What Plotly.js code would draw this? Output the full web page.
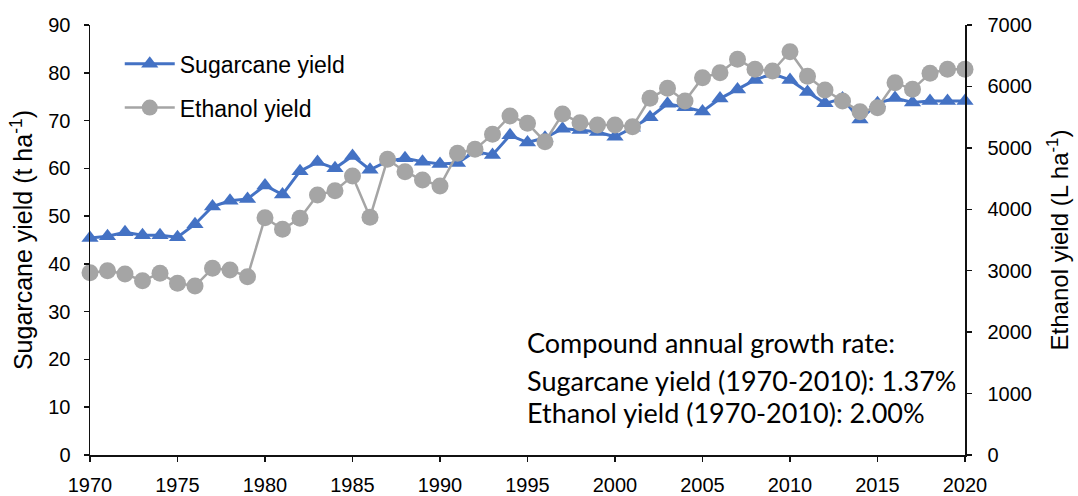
<!DOCTYPE html>
<html>
<head>
<meta charset="utf-8">
<script src="https://cdn.plot.ly/plotly-3.0.1.min.js"></script>
<style>html,body{margin:0;padding:0;background:#fff;}#chart{width:1078px;height:496px;}</style>
</head>
<body>
<div id="chart"></div>
<script>
const years = [1970,1971,1972,1973,1974,1975,1976,1977,1978,1979,1980,1981,1982,1983,1984,1985,1986,1987,1988,1989,1990,1991,1992,1993,1994,1995,1996,1997,1998,1999,2000,2001,2002,2003,2004,2005,2006,2007,2008,2009,2010,2011,2012,2013,2014,2015,2016,2017,2018,2019,2020];
const sugarcaneYield = [45.4,45.8,46.6,46.0,46.0,45.6,48.3,52.0,53.2,53.6,56.4,54.5,59.4,61.3,60.0,62.6,59.7,61.5,62.1,61.4,60.9,61.1,63.5,62.8,66.9,65.4,66.4,68.3,68.0,67.6,66.6,68.5,70.7,73.5,72.8,71.9,74.6,76.5,78.5,79.8,78.5,76.0,73.6,74.6,70.2,73.6,74.7,73.8,74.1,74.1,74.1];
const ethanolYield = [2968,3000,2946,2838,2958,2795,2751,3039,3012,2903,3863,3674,3853,4232,4303,4542,3869,4813,4612,4477,4379,4911,4976,5220,5518,5399,5100,5551,5410,5372,5372,5345,5806,5969,5763,6142,6224,6441,6278,6251,6566,6165,5942,5763,5589,5654,6061,5953,6213,6279,6279];
const seriesNames = ["Sugarcane yield", "Ethanol yield"];
const noteLines = ["Compound annual growth rate:", "Sugarcane yield (1970-2010): 1.37%", "Ethanol yield (1970-2010): 2.00%"];

const F = "Liberation Sans, Arial, sans-serif";
function fnt(s) { return {family: F, size: s, color: "#000"}; }

const traces = [
  {x: years, y: sugarcaneYield, name: seriesNames[0], type: "scatter", mode: "lines+markers",
   yaxis: "y", legendgroup: "a", cliponaxis: false,
   line: {color: "#4472C4", width: 3},
   marker: {symbol: "triangle-up", size: 15, color: "#4472C4"}},
  {x: years, y: ethanolYield, name: seriesNames[1], type: "scatter", mode: "lines+markers",
   yaxis: "y2", legendgroup: "b", cliponaxis: false,
   line: {color: "#A5A5A5", width: 2.5},
   marker: {symbol: "circle", size: 17, color: "#A5A5A5"}}
];

const layout = {
  width: 1078, height: 496,
  margin: {l: 90, r: 113, t: 25, b: 41},
  paper_bgcolor: "#fff", plot_bgcolor: "#fff",
  font: fnt(20),
  showlegend: true,
  legend: {x: 0.034, y: 0.96, xanchor: "left", yanchor: "top", bgcolor: "rgba(0,0,0,0)",
           font: fnt(23), tracegroupgap: 11, itemwidth: 50},
  xaxis: {range: [1970, 2020], dtick: 5, tick0: 1970, showgrid: false, zeroline: false,
          showline: true, linecolor: "#111", linewidth: 1.5, ticks: "outside", ticklen: 5,
          tickcolor: "#111", tickwidth: 1.5, tickfont: fnt(20), ticklabelstandoff: 6},
  yaxis: {range: [0, 90], dtick: 10, showgrid: false, zeroline: false,
          showline: true, linecolor: "#111", linewidth: 1.5, ticks: "outside", ticklen: 5,
          tickcolor: "#111", tickwidth: 1.5, tickfont: fnt(20), ticklabelstandoff: 9,
          title: {text: "Sugarcane yield (t ha<sup>-1</sup>)", font: fnt(25), standoff: 8}},
  yaxis2: {range: [0, 7000], dtick: 1000, overlaying: "y", side: "right", showgrid: false, zeroline: false,
           showline: true, linecolor: "#111", linewidth: 1.5, ticks: "outside", ticklen: 5,
           tickcolor: "#111", tickwidth: 1.5, tickfont: fnt(20), ticklabelstandoff: 12,
           title: {text: "Ethanol yield (L ha<sup>-1</sup>)", font: fnt(24), standoff: 20}},
  annotations: noteLines.map((t, i) => ({
    text: t, xref: "paper", yref: "paper", x: 0.497, y: [0.2605, 0.1744, 0.0977][i],
    xanchor: "left", yanchor: "middle", showarrow: false, align: "left",
    font: {family: "Lato, sans-serif", size: 27, color: "#000"}
  }))
};

Plotly.newPlot("chart", traces, layout, {displayModeBar: false, staticPlot: true});
</script>
</body>
</html>
